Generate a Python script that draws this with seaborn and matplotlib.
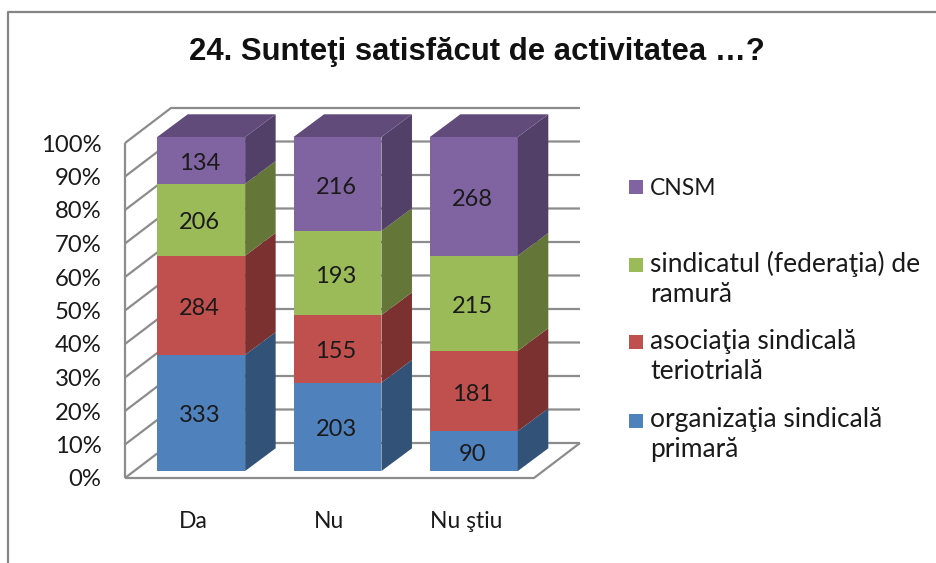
import numpy as np
import matplotlib
matplotlib.use('Agg')
import matplotlib.pyplot as plt
import seaborn as sns
from matplotlib.lines import Line2D
from matplotlib.patches import Rectangle

# --- data ---
categories = ['Da', 'Nu', 'Nu ştiu']
primara = [333, 203, 90]
teritoriala = [284, 155, 181]
ramura = [206, 193, 215]
cnsm = [134, 216, 268]
percent_ticks = [0, 10, 20, 30, 40, 50, 60, 70, 80, 90, 100]
title = '24. Sunteţi satisfăcut de activitatea …?'
legend_labels = ['CNSM', 'sindicatul (federaţia) de\nramură', 'asociaţia sindicală\nteriotrială',
                 'organizaţia sindicală\nprimară']

# --- style ---
W, H = 936, 563
FRONT = ['#4F81BD', '#C0504D', '#9BBB59', '#8064A2']
SIDE = ['#325278', '#7B3130', '#647638', '#524068']
TOP_FACE = '#604B7B'
GRID = '#8C8C8C'
TEXT = '#1A1A1A'

sns.set_theme(style='white')
plt.rcParams['font.family'] = ['Lato', 'DejaVu Sans']
plt.rcParams['axes.unicode_minus'] = False


def rect_px(left, top, right, bottom):
    return [left / W, 1 - bottom / H, (right - left) / W, (bottom - top) / H]


def main():
    fig = plt.figure(figsize=(W / 100, H / 100), dpi=100, facecolor='white')

    # cadrul graficului (doar sus si stanga)
    fig.add_artist(Line2D([8 / W, 8 / W, 1], [0, 1 - 12 / H, 1 - 12 / H], color='#858585', lw=1.6))
    fig.text(477 / W, 1 - 60 / H, title, ha='center', va='baseline', fontsize=22.4, fontweight='bold',
             family=['Liberation Sans', 'DejaVu Sans'], color='#111111')

    # planul din fata: axe, etichete si peretii graficului
    ax_wall = fig.add_axes(rect_px(125, 143, 534, 478))
    ax_wall.set_xlim(-0.5, 2.5)
    ax_wall.set_ylim(0, 100)
    ax_wall.patch.set_alpha(0)
    sns.despine(ax=ax_wall, left=True, bottom=True)
    ax_wall.set_xticks(range(len(categories)), categories)
    ax_wall.set_yticks(percent_ticks, [f'{p}%' for p in percent_ticks])
    ax_wall.tick_params(axis='y', length=0, pad=17, labelsize=17.2, labelcolor=TEXT)
    ax_wall.tick_params(axis='x', length=0, pad=24, labelsize=16.5, labelcolor=TEXT)

    depth_x, depth_y = 46 / 136.3, 35 / 3.35
    line_kw = dict(color=GRID, lw=1.6, clip_on=False, solid_capstyle='butt')
    for p in percent_ticks:
        ax_wall.plot([-0.5, -0.5 + depth_x, 2.5 + depth_x], [p, p + depth_y, p + depth_y], **line_kw)
    ax_wall.plot([-0.5, -0.5], [0, 100], **line_kw)
    ax_wall.plot([-0.5, 2.5, 2.5 + depth_x], [0, 0, depth_y], **line_kw)

    # planul barelor, putin mai in spate
    ax = fig.add_axes(rect_px(133, 137, 542, 471))
    ax.patch.set_alpha(0)

    series = [primara, teritoriala, ramura, cnsm]
    totals = np.sum(series, axis=0)
    bottoms = np.zeros(len(categories))
    bar_w = 0.645
    side_x, side_y = 30.5 / 136.3, 22.7 / 3.34

    for i, values in enumerate(series):
        pct = np.array(values) / totals * 100
        sns.barplot(x=categories, y=pct, bottom=bottoms, color=FRONT[i], saturation=1, width=bar_w,
                    errorbar=None, linewidth=0, ax=ax)
        labels = ax.bar_label(ax.containers[-1], labels=[str(v) for v in values], label_type='center',
                              fontsize=17, color=TEXT)
        for lab in labels:
            lab.xyann = (-1, -2.2)

        # fata laterala
        for j in range(len(categories)):
            x_r = j + bar_w / 2
            y0, y1 = bottoms[j], bottoms[j] + pct[j]
            ax.fill([x_r, x_r + side_x, x_r + side_x, x_r], [y0, y0 + side_y, y1 + side_y, y1],
                    color=SIDE[i], lw=0, clip_on=False)
        bottoms = bottoms + pct

    # capacul barelor
    for j in range(len(categories)):
        x_l, x_r = j - bar_w / 2, j + bar_w / 2
        ax.fill([x_l, x_r, x_r + side_x, x_l + side_x], [100, 100, 100 + side_y, 100 + side_y],
                color=TOP_FACE, lw=0, clip_on=False)

    ax.set_xlim(-0.5, 2.5)
    ax.set_ylim(0, 100)
    ax.axis('off')

    # legenda: patratul sta la primul rand al etichetei, baseline = ultimul rand
    legend_y = [187, 265, 342, 421]
    legend_base = [195, 302, 379, 457]
    legend_size = [16.5, 19, 19, 19]
    for y, base, size, label, color in zip(legend_y, legend_base, legend_size, legend_labels, FRONT[::-1]):
        fig.add_artist(Rectangle((629 / W, 1 - (y + 7) / H), 14 / W, 14 / H, facecolor=color,
                                 edgecolor='none', transform=fig.transFigure))
        fig.text(650 / W, 1 - base / H, label, ha='left', va='baseline', fontsize=size, color=TEXT,
                 linespacing=1.24)

    fig.savefig('out.png', dpi=100)


if __name__ == '__main__':
    main()
